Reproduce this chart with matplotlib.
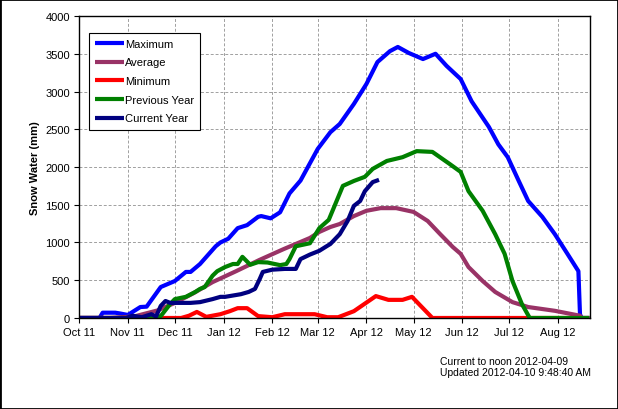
import numpy as np
import matplotlib
matplotlib.use("Agg")
import matplotlib.pyplot as plt
import matplotlib.dates as mdates
from matplotlib.patches import Rectangle

plt.rcParams['font.family'] = ['Liberation Sans', 'DejaVu Sans']

# days since 2011-10-01 and snow water equivalent (mm)
max_day = [0, 13, 15, 23, 26, 31, 39, 43, 52, 61, 68, 71, 77, 87, 90, 95, 101, 107, 114, 116,
           122, 128, 134, 141, 152, 160, 166, 175, 183, 190, 198, 203, 210, 219, 227, 234, 243,
           250, 261, 267, 273, 280, 286, 295, 303, 311, 318, 319, 320, 325]
max_swe = [0, 0, 70, 70, 60, 40, 145, 150, 410, 490, 610, 610, 715, 950, 1000, 1050, 1190, 1230,
           1340, 1350, 1320, 1400, 1650, 1820, 2240, 2460, 2570, 2835, 3100, 3390, 3535, 3590,
           3510, 3430, 3500, 3340, 3165, 2870, 2530, 2300, 2130, 1815, 1550, 1340, 1110, 850,
           620, 50, 0, 0]

avg_day = [0, 20, 35, 50, 61, 73, 85, 100, 115, 130, 147, 153, 160, 166, 175, 183, 192, 202,
           213, 222, 230, 238, 243, 248, 257, 265, 276, 286, 303, 319, 320]
avg_swe = [0, 0, 20, 100, 200, 330, 475, 620, 770, 910, 1060, 1140, 1205, 1245, 1350, 1420,
           1455, 1455, 1405, 1285, 1110, 940, 850, 675, 490, 345, 210, 145, 95, 30, 0]

min_day = [0, 65, 70, 75, 81, 90, 96, 101, 107, 114, 123, 131, 147, 150, 158, 165, 175, 189,
           197, 206, 212, 225, 325]
min_swe = [0, 0, 30, 80, 15, 50, 90, 130, 130, 25, 10, 50, 50, 50, 10, 10, 90, 290, 240, 240,
           280, 0, 0]

prev_day = [0, 48, 52, 58, 61, 68, 74, 77, 80, 85, 88, 93, 98, 101, 104, 109, 114, 120, 128,
            132, 134, 138, 147, 153, 159, 164, 168, 175, 182, 187, 196, 206, 215, 225, 236,
            243, 248, 257, 265, 271, 276, 282, 287, 325]
prev_swe = [0, 0, 25, 185, 250, 280, 345, 385, 410, 560, 620, 675, 715, 715, 810, 705, 740,
            735, 700, 715, 780, 950, 990, 1190, 1300, 1550, 1750, 1815, 1870, 1975, 2080, 2130,
            2210, 2200, 2040, 1935, 1680, 1420, 1110, 850, 490, 185, 0, 0]

cur_day = [0, 30, 34, 40, 46, 49, 52, 55, 58, 71, 77, 85, 90, 93, 103, 108, 112, 115, 117, 123,
           131, 138, 141, 147, 153, 158, 160, 166, 171, 175, 179, 182, 187, 191]
cur_swe = [0, 0, 30, 10, 50, 20, 160, 225, 200, 200, 210, 250, 280, 280, 315, 345, 385, 515,
           610, 640, 650, 650, 780, 840, 890, 955, 980, 1110, 1285, 1485, 1550, 1680, 1800, 1830]

start = np.datetime64('2011-10-01')


def to_dates(days):
    return start + np.array(days).astype('timedelta64[D]')


series = [
    ("Maximum", max_day, max_swe, "#0000ff"),
    ("Average", avg_day, avg_swe, "#993366"),
    ("Minimum", min_day, min_swe, "#ff0000"),
    ("Previous Year", prev_day, prev_swe, "#008000"),
    ("Current Year", cur_day, cur_swe, "#000080"),
]

fig = plt.figure(figsize=(6.18, 4.10), dpi=100)
ax = fig.add_axes([0.128, 0.222, 0.827, 0.7365])

for name, d, v, c in series:
    ax.plot(to_dates(d), v, color=c, lw=3.0, label=name, solid_capstyle='butt')

ax.set_ylim(0, 4000)
ax.set_yticks(range(0, 4001, 500))
ax.set_xlim(start, start + np.timedelta64(325, 'D') + np.timedelta64(12, 'h'))
ax.xaxis.set_major_locator(mdates.MonthLocator())
ax.xaxis.set_major_formatter(mdates.DateFormatter('%b %y'))

ax.grid(True, color='#a0a0a0', linestyle=(0, (3, 2)), lw=0.7)
ax.tick_params(labelsize=8, length=3.5, width=0.8, pad=3)
for s in ax.spines.values():
    s.set_linewidth(1.0)

ax.set_ylabel("Snow Water (mm)", fontsize=8, fontweight='bold', labelpad=4)

leg = ax.legend(loc='upper left', bbox_to_anchor=(0.02, 0.945), fontsize=8,
                fancybox=False, edgecolor='black', framealpha=1, handlelength=2.6,
                handletextpad=0.05, labelspacing=0.78, borderpad=0.55, borderaxespad=0)
leg.get_frame().set_linewidth(0.8)

fig.text(0.712, 0.117, "Current to noon 2012-04-09", fontsize=7.5, ha='left', va='center')
fig.text(0.712, 0.090, "Updated 2012-04-10 9:48:40 AM", fontsize=7.5, ha='left', va='center')

fig.patches.append(Rectangle((0, 0), 1, 1, transform=fig.transFigure, fill=False,
                             edgecolor='black', lw=2))

fig.savefig("out.png", dpi=100)
